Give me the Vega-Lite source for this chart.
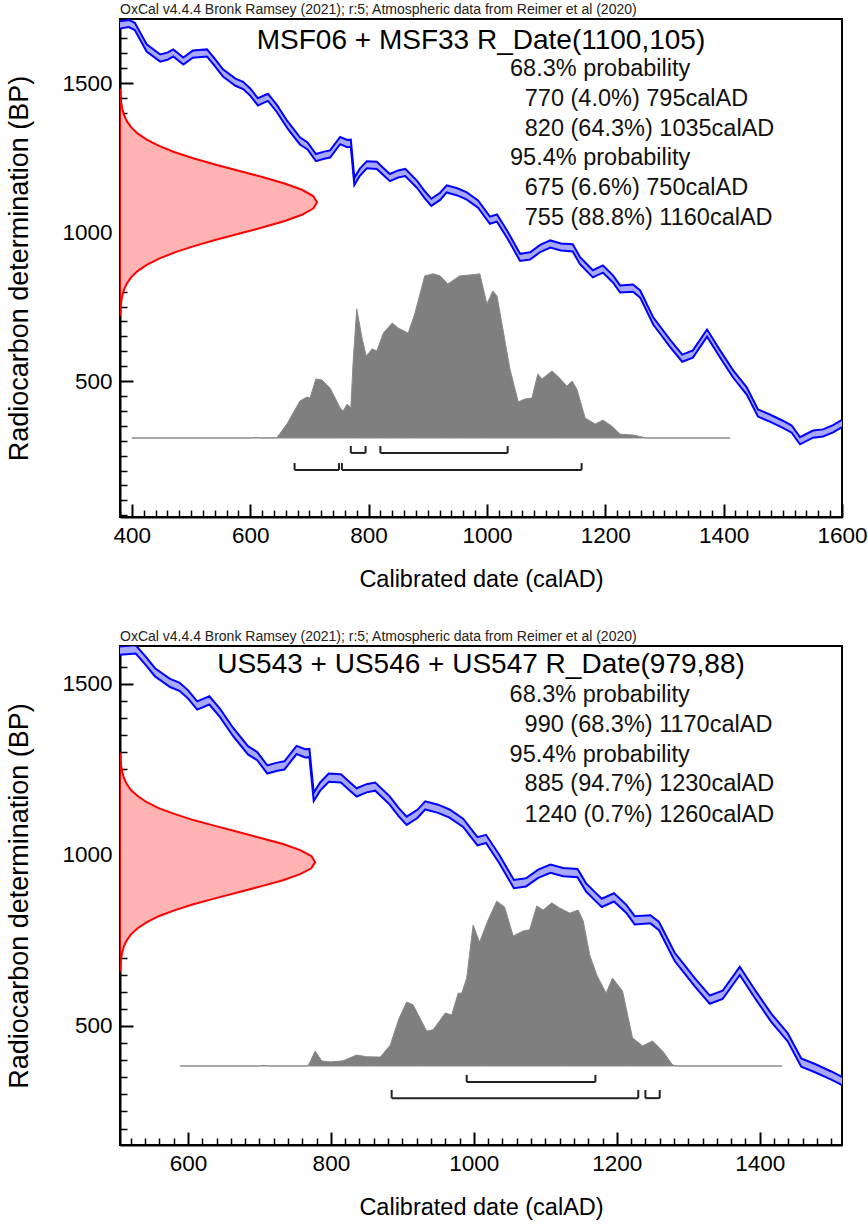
{
  "$schema": "https://vega.github.io/schema/vega-lite/v6.json",
  "padding": {"left": 4, "top": 2, "right": 0, "bottom": 0},
  "spacing": 37,
  "config": {
    "font": "Liberation Sans",
    "view": {"stroke": "black", "strokeWidth": 2},
    "axis": {"labelFont": "Liberation Sans", "titleFont": "Liberation Sans", "grid": false, "zindex": 1, "labelColor": "black", "titleColor": "black", "tickColor": "black", "domainColor": "black"},
    "title": {"font": "Liberation Sans"}
  },
  "datasets": {
    "curve": [
      {"year":380,"lo":1683,"hi":1707},{"year":395,"lo":1688,"hi":1712},{"year":405,"lo":1678,"hi":1702},{"year":425,"lo":1606,"hi":1630},{"year":448,"lo":1572,"hi":1596},{"year":460,"lo":1578,"hi":1602},{"year":470,"lo":1589,"hi":1613},{"year":487,"lo":1562,"hi":1586},{"year":503,"lo":1585,"hi":1609},{"year":527,"lo":1589,"hi":1613},{"year":540,"lo":1558,"hi":1582},{"year":554,"lo":1522,"hi":1546},{"year":575,"lo":1491,"hi":1515},{"year":588,"lo":1480,"hi":1504},{"year":600,"lo":1458,"hi":1482},{"year":613,"lo":1425,"hi":1449},{"year":630,"lo":1440,"hi":1464},{"year":645,"lo":1403,"hi":1427},{"year":663,"lo":1348,"hi":1372},{"year":684,"lo":1294,"hi":1318},{"year":697,"lo":1277,"hi":1301},{"year":711,"lo":1238,"hi":1262},{"year":725,"lo":1246,"hi":1270},{"year":735,"lo":1250,"hi":1274},{"year":752,"lo":1295,"hi":1319},{"year":764,"lo":1285,"hi":1309},{"year":770,"lo":1286,"hi":1310},{"year":776,"lo":1158,"hi":1182},{"year":785,"lo":1188,"hi":1212},{"year":797,"lo":1214,"hi":1238},{"year":814,"lo":1212,"hi":1236},{"year":824,"lo":1193,"hi":1217},{"year":836,"lo":1171,"hi":1195},{"year":850,"lo":1183,"hi":1207},{"year":862,"lo":1188,"hi":1212},{"year":882,"lo":1148,"hi":1172},{"year":895,"lo":1113,"hi":1137},{"year":906,"lo":1088,"hi":1112},{"year":921,"lo":1108,"hi":1132},{"year":932,"lo":1133,"hi":1157},{"year":950,"lo":1123,"hi":1147},{"year":966,"lo":1109,"hi":1133},{"year":985,"lo":1082,"hi":1106},{"year":1005,"lo":1028,"hi":1052},{"year":1017,"lo":1035,"hi":1059},{"year":1035,"lo":978,"hi":1002},{"year":1056,"lo":903,"hi":927},{"year":1073,"lo":908,"hi":932},{"year":1090,"lo":933,"hi":957},{"year":1107,"lo":948,"hi":972},{"year":1125,"lo":938,"hi":962},{"year":1145,"lo":935,"hi":959},{"year":1157,"lo":893,"hi":917},{"year":1169,"lo":868,"hi":892},{"year":1179,"lo":848,"hi":872},{"year":1196,"lo":864,"hi":888},{"year":1213,"lo":831,"hi":855},{"year":1225,"lo":797,"hi":821},{"year":1247,"lo":800,"hi":824},{"year":1259,"lo":780,"hi":804},{"year":1281,"lo":690,"hi":714},{"year":1295,"lo":653,"hi":677},{"year":1309,"lo":616,"hi":640},{"year":1330,"lo":565,"hi":589},{"year":1348,"lo":579,"hi":603},{"year":1372,"lo":649,"hi":673},{"year":1394,"lo":579,"hi":603},{"year":1416,"lo":512,"hi":536},{"year":1439,"lo":455,"hi":479},{"year":1458,"lo":381,"hi":405},{"year":1478,"lo":364,"hi":388},{"year":1500,"lo":343,"hi":367},{"year":1515,"lo":327,"hi":351},{"year":1529,"lo":288,"hi":312},{"year":1551,"lo":310,"hi":334},{"year":1568,"lo":314,"hi":338},{"year":1585,"lo":328,"hi":352},{"year":1600,"lo":346,"hi":370}
    ],
    "red1": [
      {"bp":722,"x":380.3},{"bp":743,"x":381.0},{"bp":764,"x":382.0},{"bp":785,"x":383.7},{"bp":806,"x":386.6},{"bp":827,"x":391.3},{"bp":848,"x":398.7},{"bp":869,"x":409.6},{"bp":890,"x":425.1},{"bp":911,"x":445.9},{"bp":932,"x":472.6},{"bp":953,"x":505.0},{"bp":974,"x":542.1},{"bp":995,"x":582.0},{"bp":1016,"x":621.8},{"bp":1037,"x":658.2},{"bp":1058,"x":687.4},{"bp":1079,"x":706.4},{"bp":1100,"x":713.0},{"bp":1121,"x":706.4},{"bp":1142,"x":687.4},{"bp":1163,"x":658.2},{"bp":1184,"x":621.8},{"bp":1205,"x":582.0},{"bp":1226,"x":542.1},{"bp":1247,"x":505.0},{"bp":1268,"x":472.6},{"bp":1289,"x":445.9},{"bp":1310,"x":425.1},{"bp":1331,"x":409.6},{"bp":1352,"x":398.7},{"bp":1373,"x":391.3},{"bp":1394,"x":386.6},{"bp":1415,"x":383.7},{"bp":1436,"x":382.0},{"bp":1457,"x":381.0},{"bp":1478,"x":380.3}
    ],
    "red2": [
      {"bp":662,"x":505.2},{"bp":680,"x":505.8},{"bp":697,"x":506.6},{"bp":715,"x":508.0},{"bp":733,"x":510.4},{"bp":750,"x":514.3},{"bp":768,"x":520.3},{"bp":785,"x":529.3},{"bp":803,"x":541.9},{"bp":821,"x":559.0},{"bp":838,"x":580.9},{"bp":856,"x":607.5},{"bp":873,"x":637.9},{"bp":891,"x":670.6},{"bp":909,"x":703.2},{"bp":926,"x":733.0},{"bp":944,"x":757.0},{"bp":961,"x":772.6},{"bp":979,"x":778.0},{"bp":997,"x":772.6},{"bp":1014,"x":757.0},{"bp":1032,"x":733.0},{"bp":1049,"x":703.2},{"bp":1067,"x":670.6},{"bp":1085,"x":637.9},{"bp":1102,"x":607.5},{"bp":1120,"x":580.9},{"bp":1137,"x":559.0},{"bp":1155,"x":541.9},{"bp":1173,"x":529.3},{"bp":1190,"x":520.3},{"bp":1208,"x":514.3},{"bp":1225,"x":510.4},{"bp":1243,"x":508.0},{"bp":1261,"x":506.6},{"bp":1278,"x":505.8},{"bp":1296,"x":505.2}
    ],
    "gray1": [
      {"year":400,"bp":309},{"year":600,"bp":309},{"year":610,"bp":311},{"year":620,"bp":309},{"year":645,"bp":310},{"year":662,"bp":356},{"year":684,"bp":433},{"year":696,"bp":447},{"year":701,"bp":443},{"year":711,"bp":507},{"year":721,"bp":504},{"year":735,"bp":477},{"year":752,"bp":410},{"year":757,"bp":400},{"year":764,"bp":423},{"year":770,"bp":410},{"year":774,"bp":567},{"year":780,"bp":742},{"year":789,"bp":645},{"year":796,"bp":584},{"year":806,"bp":608},{"year":814,"bp":601},{"year":825,"bp":661},{"year":840,"bp":695},{"year":850,"bp":678},{"year":867,"bp":661},{"year":878,"bp":725},{"year":895,"bp":853},{"year":909,"bp":860},{"year":921,"bp":853},{"year":934,"bp":826},{"year":954,"bp":853},{"year":971,"bp":856},{"year":988,"bp":860},{"year":992,"bp":826},{"year":1000,"bp":759},{"year":1010,"bp":802},{"year":1017,"bp":786},{"year":1039,"bp":540},{"year":1053,"bp":430},{"year":1064,"bp":440},{"year":1076,"bp":443},{"year":1086,"bp":524},{"year":1093,"bp":507},{"year":1110,"bp":534},{"year":1123,"bp":510},{"year":1135,"bp":483},{"year":1144,"bp":500},{"year":1152,"bp":473},{"year":1166,"bp":376},{"year":1183,"bp":356},{"year":1196,"bp":369},{"year":1211,"bp":349},{"year":1225,"bp":322},{"year":1247,"bp":319},{"year":1270,"bp":309},{"year":1411,"bp":309}
    ],
    "gray2": [
      {"year":589,"bp":383},{"year":700,"bp":383},{"year":705,"bp":385},{"year":712,"bp":383},{"year":768,"bp":383},{"year":772,"bp":400},{"year":778,"bp":427},{"year":787,"bp":398},{"year":799,"bp":395},{"year":817,"bp":398},{"year":836,"bp":415},{"year":850,"bp":410},{"year":869,"bp":409},{"year":883,"bp":444},{"year":895,"bp":520},{"year":906,"bp":570},{"year":915,"bp":562},{"year":934,"bp":485},{"year":943,"bp":489},{"year":960,"bp":538},{"year":969,"bp":532},{"year":978,"bp":596},{"year":983,"bp":596},{"year":990,"bp":640},{"year":999,"bp":795},{"year":1008,"bp":745},{"year":1020,"bp":810},{"year":1032,"bp":865},{"year":1043,"bp":848},{"year":1055,"bp":763},{"year":1069,"bp":778},{"year":1078,"bp":781},{"year":1088,"bp":851},{"year":1097,"bp":839},{"year":1109,"bp":860},{"year":1120,"bp":845},{"year":1134,"bp":830},{"year":1146,"bp":839},{"year":1153,"bp":807},{"year":1162,"bp":708},{"year":1172,"bp":649},{"year":1185,"bp":596},{"year":1194,"bp":640},{"year":1208,"bp":602},{"year":1222,"bp":465},{"year":1236,"bp":442},{"year":1250,"bp":456},{"year":1264,"bp":427},{"year":1278,"bp":386},{"year":1285,"bp":383},{"year":1431,"bp":383}
    ],
    "br1": [
      {"start":770,"end":795,"line":259,"tick":282},{"start":820,"end":1035,"line":259,"tick":282},{"start":675,"end":750,"line":202,"tick":225},{"start":755,"end":1160,"line":202,"tick":225}
    ],
    "br2": [
      {"start":990,"end":1170,"line":336,"tick":357},{"start":885,"end":1230,"line":289,"tick":313},{"start":1240,"end":1260,"line":289,"tick":313}
    ],
    "txt1": [
      {"role":"title","year":990,"bp":1641,"label":"MSF06 + MSF33 R_Date(1100,105)"},
      {"role":"body","year":1039,"bp":1547,"label":"68.3% probability"},
      {"role":"body","year":1064,"bp":1447,"label":"770 (4.0%) 795calAD"},
      {"role":"body","year":1064,"bp":1346,"label":"820 (64.3%) 1035calAD"},
      {"role":"body","year":1039,"bp":1249,"label":"95.4% probability"},
      {"role":"body","year":1064,"bp":1148,"label":"675 (6.6%) 750calAD"},
      {"role":"body","year":1064,"bp":1047,"label":"755 (88.8%) 1160calAD"}
    ],
    "txt2": [
      {"role":"title","year":1010,"bp":1556,"label":"US543 + US546 + US547 R_Date(979,88)"},
      {"role":"body","year":1050,"bp":1468,"label":"68.3% probability"},
      {"role":"body","year":1071,"bp":1380,"label":"990 (68.3%) 1170calAD"},
      {"role":"body","year":1050,"bp":1292,"label":"95.4% probability"},
      {"role":"body","year":1071,"bp":1207,"label":"885 (94.7%) 1230calAD"},
      {"role":"body","year":1071,"bp":1117,"label":"1240 (0.7%) 1260calAD"}
    ]
  },
  "vconcat": [
    {
      "width": 722,
      "height": 498,
      "title": {"text": "OxCal v4.4.4 Bronk Ramsey (2021); r:5; Atmospheric data from Reimer et al (2020)", "anchor": "start", "frame": "group", "fontSize": 14, "fontWeight": "normal", "color": "#222222", "offset": 2},
      "resolve": {"axis": {"x": "independent", "y": "independent"}},
      "layer": [
        {
          "data": {"name": "red1"},
          "mark": {"type": "area", "orient": "horizontal", "fill": "#ffb3b3", "stroke": "#ff0000", "strokeWidth": 2, "clip": true},
          "encoding": {
            "y": {"field": "bp", "type": "quantitative", "scale": {"domain": [44, 1715], "nice": false, "zero": false}, "axis": null},
            "x": {"field": "x", "type": "quantitative", "scale": {"domain": [380, 1600], "nice": false, "zero": false}, "axis": null},
            "x2": {"datum": 380}
          }
        },
        {
          "data": {"name": "gray1"},
          "mark": {"type": "area", "orient": "vertical", "fill": "#7f7f7f", "stroke": "#8a8a8a", "strokeWidth": 1, "clip": true},
          "encoding": {
            "x": {"field": "year", "type": "quantitative", "scale": {"domain": [380, 1600], "nice": false, "zero": false},
              "axis": {"orient": "bottom", "values": [400, 600, 800, 1000, 1200, 1400, 1600], "format": "d", "tickSize": -13, "tickWidth": 2, "domainWidth": 2, "labelFontSize": 22.5, "labelPadding": 20, "labelFlush": false, "labelOverlap": false, "title": "Calibrated date (calAD)", "titleFontSize": 23.5, "titleFontWeight": "normal", "titlePadding": 21}},
            "y": {"field": "bp", "type": "quantitative", "scale": {"domain": [44, 1715], "nice": false, "zero": false},
              "axis": {"orient": "left", "values": [500, 1000, 1500], "format": "d", "tickSize": -13, "tickWidth": 2, "domainWidth": 2, "labelFontSize": 22.5, "labelPadding": 21, "labelFlush": false, "labelOverlap": false, "title": "Radiocarbon determination (BP)", "titleFontSize": 27, "titleFontWeight": "normal", "titlePadding": 28}},
            "y2": {"datum": 309}
          }
        },
        {
          "data": {"name": "curve"},
          "mark": {"type": "area", "fill": "#a8a8ff", "clip": true},
          "encoding": {
            "x": {"field": "year", "type": "quantitative", "scale": {"domain": [380, 1600], "nice": false, "zero": false},
              "axis": {"orient": "bottom", "values": [380,420,440,460,480,500,520,540,560,580,620,640,660,680,700,720,740,760,780,820,840,860,880,900,920,940,960,980,1020,1040,1060,1080,1100,1120,1140,1160,1180,1220,1240,1260,1280,1300,1320,1340,1360,1380,1420,1440,1460,1480,1500,1520,1540,1560,1580], "tickSize": -7, "tickWidth": 1.5, "labels": false, "domain": false, "title": null}},
            "y": {"field": "lo", "type": "quantitative", "scale": {"domain": [44, 1715], "nice": false, "zero": false},
              "axis": {"orient": "left", "values": [50,100,150,200,250,300,350,400,450,550,600,650,700,750,800,850,900,950,1050,1100,1150,1200,1250,1300,1350,1400,1450,1550,1600,1650,1700], "tickSize": -7, "tickWidth": 1.5, "labels": false, "domain": false, "title": null}},
            "y2": {"field": "hi"}
          }
        },
        {
          "data": {"name": "curve"},
          "mark": {"type": "line", "color": "#0000ff", "strokeWidth": 2, "clip": true},
          "encoding": {
            "x": {"field": "year", "type": "quantitative", "scale": {"domain": [380, 1600], "nice": false, "zero": false}, "axis": null},
            "y": {"field": "hi", "type": "quantitative", "scale": {"domain": [44, 1715], "nice": false, "zero": false}, "axis": null}
          }
        },
        {
          "data": {"name": "curve"},
          "mark": {"type": "line", "color": "#0000ff", "strokeWidth": 2, "clip": true},
          "encoding": {
            "x": {"field": "year", "type": "quantitative", "scale": {"domain": [380, 1600], "nice": false, "zero": false}, "axis": null},
            "y": {"field": "lo", "type": "quantitative", "scale": {"domain": [44, 1715], "nice": false, "zero": false}, "axis": null}
          }
        },
        {
          "data": {"name": "br1"},
          "mark": {"type": "rule", "color": "#222222", "strokeWidth": 2},
          "encoding": {
            "x": {"field": "start", "type": "quantitative", "scale": {"domain": [380, 1600], "nice": false, "zero": false}, "axis": null},
            "x2": {"field": "end"},
            "y": {"field": "line", "type": "quantitative", "scale": {"domain": [44, 1715], "nice": false, "zero": false}, "axis": null}
          }
        },
        {
          "data": {"name": "br1"},
          "mark": {"type": "rule", "color": "#222222", "strokeWidth": 2},
          "encoding": {
            "x": {"field": "start", "type": "quantitative", "scale": {"domain": [380, 1600], "nice": false, "zero": false}, "axis": null},
            "y": {"field": "line", "type": "quantitative", "scale": {"domain": [44, 1715], "nice": false, "zero": false}, "axis": null},
            "y2": {"field": "tick"}
          }
        },
        {
          "data": {"name": "br1"},
          "mark": {"type": "rule", "color": "#222222", "strokeWidth": 2},
          "encoding": {
            "x": {"field": "end", "type": "quantitative", "scale": {"domain": [380, 1600], "nice": false, "zero": false}, "axis": null},
            "y": {"field": "line", "type": "quantitative", "scale": {"domain": [44, 1715], "nice": false, "zero": false}, "axis": null},
            "y2": {"field": "tick"}
          }
        },
        {
          "data": {"name": "txt1"},
          "transform": [{"filter": "datum.role === 'title'"}],
          "mark": {"type": "text", "align": "center", "baseline": "middle", "fontSize": 28, "color": "black"},
          "encoding": {
            "x": {"field": "year", "type": "quantitative", "scale": {"domain": [380, 1600], "nice": false, "zero": false}, "axis": null},
            "y": {"field": "bp", "type": "quantitative", "scale": {"domain": [44, 1715], "nice": false, "zero": false}, "axis": null},
            "text": {"field": "label"}
          }
        },
        {
          "data": {"name": "txt1"},
          "transform": [{"filter": "datum.role === 'body'"}],
          "mark": {"type": "text", "align": "left", "baseline": "middle", "fontSize": 23.5, "color": "#111111"},
          "encoding": {
            "x": {"field": "year", "type": "quantitative", "scale": {"domain": [380, 1600], "nice": false, "zero": false}, "axis": null},
            "y": {"field": "bp", "type": "quantitative", "scale": {"domain": [44, 1715], "nice": false, "zero": false}, "axis": null},
            "text": {"field": "label"}
          }
        }
      ]
    },
    {
      "width": 722,
      "height": 499,
      "title": {"text": "OxCal v4.4.4 Bronk Ramsey (2021); r:5; Atmospheric data from Reimer et al (2020)", "anchor": "start", "frame": "group", "fontSize": 14, "fontWeight": "normal", "color": "#222222", "offset": 2},
      "resolve": {"axis": {"x": "independent", "y": "independent"}},
      "layer": [
        {
          "data": {"name": "red2"},
          "mark": {"type": "area", "orient": "horizontal", "fill": "#ffb3b3", "stroke": "#ff0000", "strokeWidth": 2, "clip": true},
          "encoding": {
            "y": {"field": "bp", "type": "quantitative", "scale": {"domain": [152, 1611], "nice": false, "zero": false}, "axis": null},
            "x": {"field": "x", "type": "quantitative", "scale": {"domain": [505, 1515], "nice": false, "zero": false}, "axis": null},
            "x2": {"datum": 505}
          }
        },
        {
          "data": {"name": "gray2"},
          "mark": {"type": "area", "orient": "vertical", "fill": "#7f7f7f", "stroke": "#8a8a8a", "strokeWidth": 1, "clip": true},
          "encoding": {
            "x": {"field": "year", "type": "quantitative", "scale": {"domain": [505, 1515], "nice": false, "zero": false},
              "axis": {"orient": "bottom", "values": [600, 800, 1000, 1200, 1400], "format": "d", "tickSize": -13, "tickWidth": 2, "domainWidth": 2, "labelFontSize": 22.5, "labelPadding": 20, "labelFlush": false, "labelOverlap": false, "title": "Calibrated date (calAD)", "titleFontSize": 23.5, "titleFontWeight": "normal", "titlePadding": 21}},
            "y": {"field": "bp", "type": "quantitative", "scale": {"domain": [152, 1611], "nice": false, "zero": false},
              "axis": {"orient": "left", "values": [500, 1000, 1500], "format": "d", "tickSize": -13, "tickWidth": 2, "domainWidth": 2, "labelFontSize": 22.5, "labelPadding": 21, "labelFlush": false, "labelOverlap": false, "title": "Radiocarbon determination (BP)", "titleFontSize": 27, "titleFontWeight": "normal", "titlePadding": 28}},
            "y2": {"datum": 383}
          }
        },
        {
          "data": {"name": "curve"},
          "mark": {"type": "area", "fill": "#a8a8ff", "clip": true},
          "encoding": {
            "x": {"field": "year", "type": "quantitative", "scale": {"domain": [505, 1515], "nice": false, "zero": false},
              "axis": {"orient": "bottom", "values": [520,540,560,580,620,640,660,680,700,720,740,760,780,820,840,860,880,900,920,940,960,980,1020,1040,1060,1080,1100,1120,1140,1160,1180,1220,1240,1260,1280,1300,1320,1340,1360,1380,1420,1440,1460,1480,1500], "tickSize": -7, "tickWidth": 1.5, "labels": false, "domain": false, "title": null}},
            "y": {"field": "lo", "type": "quantitative", "scale": {"domain": [152, 1611], "nice": false, "zero": false},
              "axis": {"orient": "left", "values": [200,250,300,350,400,450,550,600,650,700,750,800,850,900,950,1050,1100,1150,1200,1250,1300,1350,1400,1450,1550,1600], "tickSize": -7, "tickWidth": 1.5, "labels": false, "domain": false, "title": null}},
            "y2": {"field": "hi"}
          }
        },
        {
          "data": {"name": "curve"},
          "mark": {"type": "line", "color": "#0000ff", "strokeWidth": 2, "clip": true},
          "encoding": {
            "x": {"field": "year", "type": "quantitative", "scale": {"domain": [505, 1515], "nice": false, "zero": false}, "axis": null},
            "y": {"field": "hi", "type": "quantitative", "scale": {"domain": [152, 1611], "nice": false, "zero": false}, "axis": null}
          }
        },
        {
          "data": {"name": "curve"},
          "mark": {"type": "line", "color": "#0000ff", "strokeWidth": 2, "clip": true},
          "encoding": {
            "x": {"field": "year", "type": "quantitative", "scale": {"domain": [505, 1515], "nice": false, "zero": false}, "axis": null},
            "y": {"field": "lo", "type": "quantitative", "scale": {"domain": [152, 1611], "nice": false, "zero": false}, "axis": null}
          }
        },
        {
          "data": {"name": "br2"},
          "mark": {"type": "rule", "color": "#222222", "strokeWidth": 2},
          "encoding": {
            "x": {"field": "start", "type": "quantitative", "scale": {"domain": [505, 1515], "nice": false, "zero": false}, "axis": null},
            "x2": {"field": "end"},
            "y": {"field": "line", "type": "quantitative", "scale": {"domain": [152, 1611], "nice": false, "zero": false}, "axis": null}
          }
        },
        {
          "data": {"name": "br2"},
          "mark": {"type": "rule", "color": "#222222", "strokeWidth": 2},
          "encoding": {
            "x": {"field": "start", "type": "quantitative", "scale": {"domain": [505, 1515], "nice": false, "zero": false}, "axis": null},
            "y": {"field": "line", "type": "quantitative", "scale": {"domain": [152, 1611], "nice": false, "zero": false}, "axis": null},
            "y2": {"field": "tick"}
          }
        },
        {
          "data": {"name": "br2"},
          "mark": {"type": "rule", "color": "#222222", "strokeWidth": 2},
          "encoding": {
            "x": {"field": "end", "type": "quantitative", "scale": {"domain": [505, 1515], "nice": false, "zero": false}, "axis": null},
            "y": {"field": "line", "type": "quantitative", "scale": {"domain": [152, 1611], "nice": false, "zero": false}, "axis": null},
            "y2": {"field": "tick"}
          }
        },
        {
          "data": {"name": "txt2"},
          "transform": [{"filter": "datum.role === 'title'"}],
          "mark": {"type": "text", "align": "center", "baseline": "middle", "fontSize": 28, "color": "black"},
          "encoding": {
            "x": {"field": "year", "type": "quantitative", "scale": {"domain": [505, 1515], "nice": false, "zero": false}, "axis": null},
            "y": {"field": "bp", "type": "quantitative", "scale": {"domain": [152, 1611], "nice": false, "zero": false}, "axis": null},
            "text": {"field": "label"}
          }
        },
        {
          "data": {"name": "txt2"},
          "transform": [{"filter": "datum.role === 'body'"}],
          "mark": {"type": "text", "align": "left", "baseline": "middle", "fontSize": 23.5, "color": "#111111"},
          "encoding": {
            "x": {"field": "year", "type": "quantitative", "scale": {"domain": [505, 1515], "nice": false, "zero": false}, "axis": null},
            "y": {"field": "bp", "type": "quantitative", "scale": {"domain": [152, 1611], "nice": false, "zero": false}, "axis": null},
            "text": {"field": "label"}
          }
        }
      ]
    }
  ]
}
